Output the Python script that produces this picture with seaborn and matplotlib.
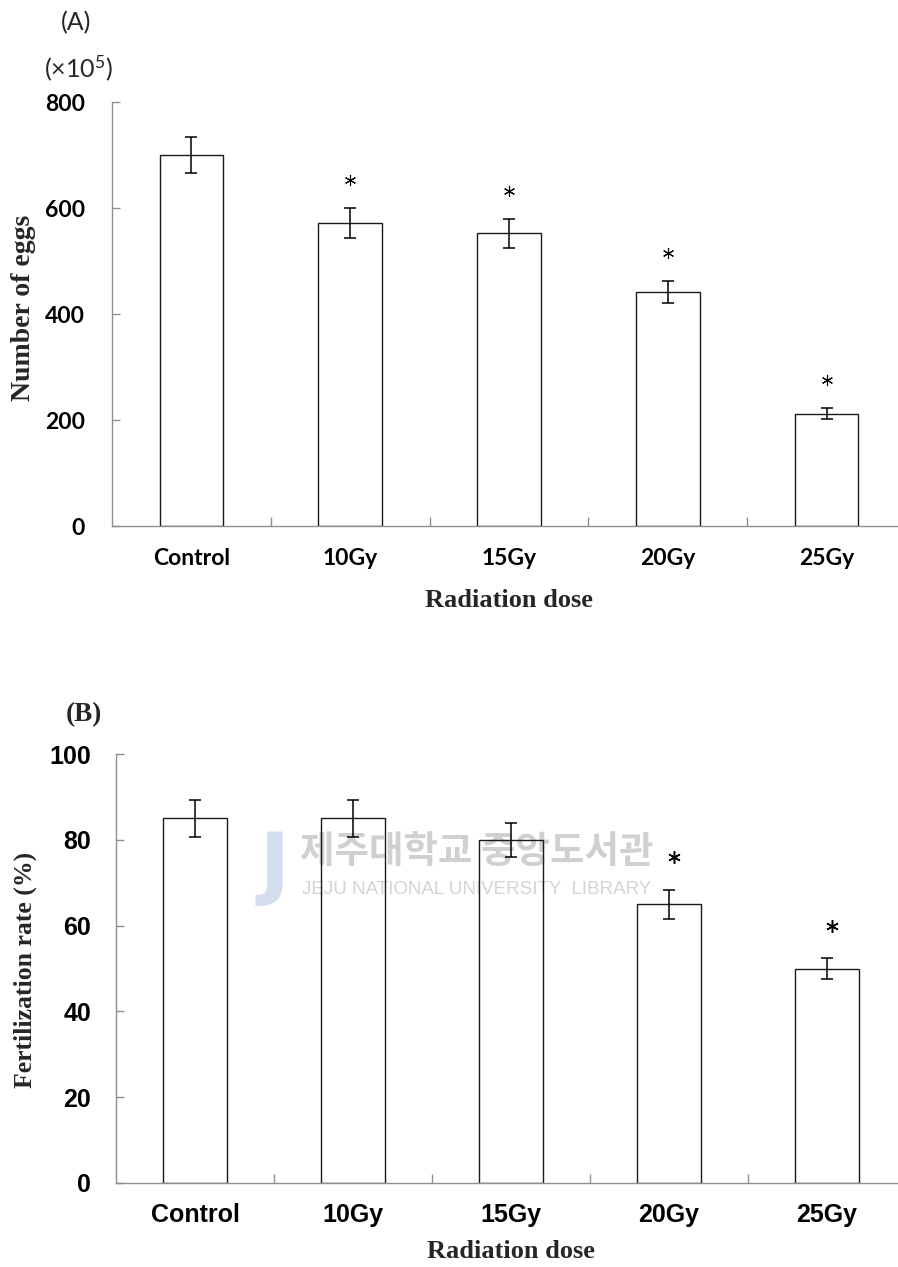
import matplotlib
matplotlib.use("Agg")
import matplotlib.pyplot as plt
import seaborn as sns
import numpy as np
import pandas as pd
from matplotlib.ticker import FixedLocator

# ---------------- data ----------------
categories = ["Control", "10Gy", "15Gy", "20Gy", "25Gy"]
eggs = [700, 572, 552, 441, 212]          # x10^5
eggs_err = [34, 28, 28, 21, 11]
eggs_sig = [False, True, True, True, True]
fert = [85, 85, 80, 65, 50]               # %
fert_err = [4.3, 4.3, 4.0, 3.4, 2.5]
fert_sig = [False, False, False, True, True]
eggs_yticks = [0, 200, 400, 600, 800]
fert_yticks = [0, 20, 40, 60, 80, 100]

sns.set_style("white")
plt.rcParams["mathtext.default"] = "regular"

W, H = 898, 1267
fig = plt.figure(figsize=(W / 100, H / 100), dpi=100)
fig.patch.set_facecolor("white")

SPINE = "#8f8f8f"


def fx(px):
    return px / W


def fy(py):
    return 1 - py / H


def style_axes(ax, ymax, tick_font, tick_size, ypad, xpad, tick_weight="bold"):
    for side in ["top", "right"]:
        ax.spines[side].set_visible(False)
    for side in ["left", "bottom"]:
        ax.spines[side].set_color(SPINE)
        ax.spines[side].set_linewidth(1.0)
    ax.set_xlim(-0.5, 4.5)
    ax.set_ylim(0, ymax)
    ax.xaxis.set_minor_locator(FixedLocator([0.5, 1.5, 2.5, 3.5]))
    ax.tick_params(axis="x", which="major", length=0, pad=xpad,
                   labelsize=tick_size)
    ax.tick_params(axis="x", which="minor", direction="in", length=6.5,
                   width=1.0, color=SPINE, bottom=True)
    ax.tick_params(axis="y", which="major", direction="in", length=5.8,
                   width=1.0, color=SPINE, pad=ypad, labelsize=tick_size,
                   left=True)
    for lbl in ax.get_xticklabels() + ax.get_yticklabels():
        lbl.set_fontfamily(tick_font)
        lbl.set_fontweight(tick_weight)
        lbl.set_color("black")
    ax.grid(False)
    ax.set_facecolor("none")


def draw_bars(ax, values, errs, ymax):
    df = pd.DataFrame({"dose": categories, "val": values})
    sns.barplot(data=df, x="dose", y="val", order=categories, ax=ax,
                width=0.4, color="white", edgecolor="#1a1a1a",
                linewidth=1.0, errorbar=None, zorder=2)
    for p in ax.patches:
        p.set_facecolor("none")
        p.set_zorder(2)
    x = np.arange(len(categories))
    ax.errorbar(x, values, yerr=errs, fmt="none", ecolor="black",
                elinewidth=1.1, capsize=4.6, capthick=1.1, zorder=3)


# ---------------- Panel A ----------------
axA = fig.add_axes([fx(112), fy(526), fx(794), 424 / H])
draw_bars(axA, eggs, eggs_err, 800)
axA.set_yticks(eggs_yticks)
axA.set_xticks(range(len(categories)))
axA.set_xticklabels(categories)
style_axes(axA, 800, "Lato", 16.5, ypad=19.4, xpad=15.5)
sx = [i for i, s in enumerate(eggs_sig) if s]
sy = [eggs[i] + eggs_err[i] + 53 for i in sx]
axA.plot(sx, sy, linestyle="none", marker=(6, 2, 0), ms=8, mew=0.8,
         color="black", zorder=4)
axA.set_xlabel("Radiation dose", fontfamily="Liberation Serif",
               fontweight="bold", fontsize=19)
axA.xaxis.set_label_coords(0.5, (526 - 600) / 424)
axA.xaxis.label.set_va("center")
axA.set_ylabel("Number of eggs", fontfamily="Liberation Serif",
               fontweight="bold", fontsize=20)
axA.yaxis.set_label_coords((23 - 112) / 794, (526 - 307.5) / 424)
axA.yaxis.label.set_va("center")

fig.text(fx(76), fy(23), "(A)", ha="center", va="center",
         fontfamily="Lato", fontsize=18)
fig.text(fx(78), fy(68), "(×10$^{5}$)", ha="center", va="center",
         fontfamily="Lato", fontsize=18)

# ---------------- Panel B ----------------
axB = fig.add_axes([fx(116), fy(1183), fx(790), 429 / H])
draw_bars(axB, fert, fert_err, 100)
axB.set_yticks(fert_yticks)
axB.set_xticks(range(len(categories)))
axB.set_xticklabels(categories)
style_axes(axB, 100, "Liberation Sans", 18, ypad=18, xpad=14.5)
sx = [i + 0.03 for i, s in enumerate(fert_sig) if s]
sy = [fert[i] + fert_err[i] + 7.5 for i, s in enumerate(fert_sig) if s]
axB.plot(sx, sy, linestyle="none", marker=(6, 2, 0), ms=9, mew=1.1,
         color="black", zorder=4)
axB.set_xlabel("Radiation dose", fontfamily="Liberation Serif",
               fontweight="bold", fontsize=19)
axB.xaxis.set_label_coords(0.5, (1183 - 1252) / 429)
axB.xaxis.label.set_va("center")
axB.set_ylabel("Fertilization rate (%)", fontfamily="Liberation Serif",
               fontweight="bold", fontsize=18.5)
axB.yaxis.set_label_coords((25 - 116) / 790, (1183 - 970) / 429)
axB.yaxis.label.set_va("center")

fig.text(fx(84), fy(715), "(B)", ha="center", va="center",
         fontfamily="Liberation Serif", fontweight="bold", fontsize=19.5)

# library watermark (faint)
axB.text(fx(260), fy(868), "J", transform=fig.transFigure, ha="left",
         va="center", fontfamily="DejaVu Sans", fontweight="bold",
         fontsize=58, color="#d3ddee", zorder=0.5)
axB.text(fx(300), fy(851), "제주대학교 중앙도서관", transform=fig.transFigure,
         ha="left", va="center", fontfamily="Noto Sans CJK KR",
         fontweight="bold", fontsize=27, color="#d0d0d0", zorder=0.5)
axB.text(fx(302), fy(889), "JEJU NATIONAL UNIVERSITY  LIBRARY",
         transform=fig.transFigure, ha="left", va="center",
         fontfamily="Liberation Sans", fontsize=13.5, color="#d4d4d4",
         zorder=0.5)

fig.savefig("out.png", dpi=100, facecolor="white")
